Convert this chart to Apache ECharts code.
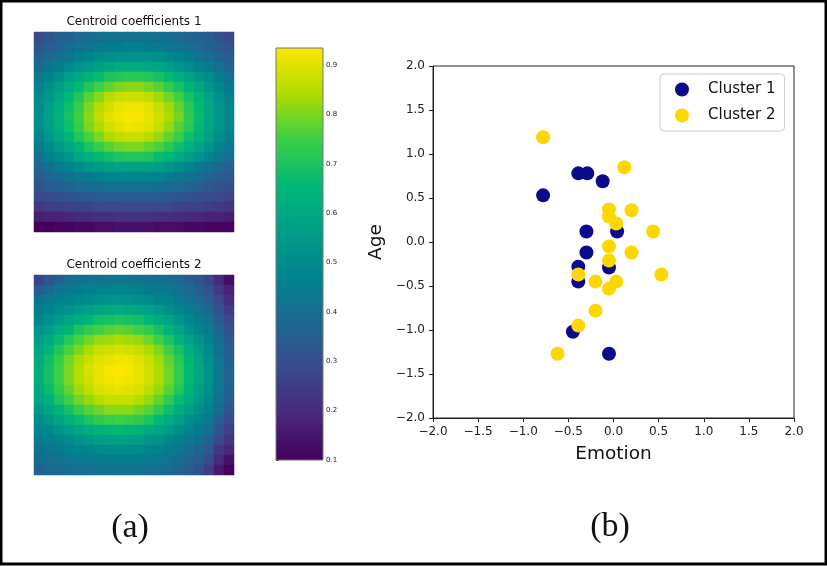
<!DOCTYPE html>
<html>
<head>
<meta charset="utf-8">
<script src="https://cdn.jsdelivr.net/npm/echarts@6/dist/echarts.min.js"></script>
<style>
html,body{margin:0;padding:0;background:#fff;}
#chart{width:827px;height:566px;}
</style>
</head>
<body>
<div id="chart"></div>
<script>
// ---- Heatmap data: Centroid coefficients 1 (rows top -> bottom) ----
const centroid1 = [
[.29,.32,.35,.36,.38,.39,.40,.41,.41,.41,.41,.41,.40,.40,.38,.37,.36,.34,.31,.28],
[.32,.35,.37,.39,.41,.42,.44,.45,.45,.46,.46,.45,.44,.43,.42,.40,.38,.36,.34,.31],
[.36,.38,.41,.43,.46,.48,.50,.51,.52,.52,.52,.52,.51,.49,.47,.45,.42,.40,.37,.34],
[.39,.42,.45,.49,.52,.55,.57,.59,.61,.61,.61,.60,.59,.56,.54,.51,.47,.44,.41,.37],
[.43,.47,.51,.56,.60,.64,.67,.70,.71,.72,.72,.71,.69,.66,.62,.58,.54,.50,.45,.41],
[.46,.51,.56,.61,.66,.71,.75,.78,.80,.81,.81,.79,.77,.73,.69,.64,.59,.54,.49,.44],
[.49,.54,.60,.66,.71,.77,.81,.85,.87,.88,.88,.86,.83,.79,.75,.69,.64,.58,.52,.46],
[.50,.56,.62,.68,.74,.80,.85,.88,.91,.92,.92,.90,.87,.83,.78,.72,.66,.60,.54,.48],
[.51,.57,.63,.69,.75,.81,.86,.90,.92,.93,.93,.91,.88,.84,.79,.73,.67,.60,.54,.48],
[.50,.56,.62,.68,.74,.80,.84,.88,.90,.92,.91,.90,.87,.82,.77,.72,.66,.59,.53,.48],
[.48,.54,.59,.65,.71,.76,.80,.84,.86,.87,.87,.85,.82,.78,.74,.68,.63,.57,.51,.46],
[.45,.50,.55,.60,.65,.70,.74,.77,.79,.80,.80,.78,.76,.72,.68,.63,.58,.53,.48,.43],
[.41,.46,.50,.54,.59,.63,.66,.68,.70,.71,.71,.70,.67,.65,.61,.57,.53,.48,.44,.40],
[.37,.41,.44,.47,.50,.53,.55,.57,.58,.58,.58,.57,.56,.53,.50,.47,.44,.41,.38,.35],
[.35,.37,.39,.41,.43,.45,.46,.47,.48,.48,.48,.48,.47,.45,.43,.41,.39,.37,.35,.33],
[.32,.34,.35,.37,.38,.39,.40,.41,.41,.41,.41,.41,.40,.39,.38,.37,.35,.33,.31,.30],
[.28,.29,.30,.31,.32,.33,.34,.35,.35,.35,.35,.35,.34,.33,.32,.31,.30,.29,.28,.27],
[.24,.25,.25,.26,.27,.27,.28,.28,.29,.29,.29,.29,.28,.28,.27,.26,.26,.25,.24,.23],
[.17,.18,.18,.19,.20,.20,.21,.21,.22,.22,.22,.22,.21,.21,.20,.20,.19,.18,.18,.17],
[.10,.10,.11,.11,.12,.12,.13,.13,.14,.14,.14,.14,.13,.13,.13,.12,.12,.11,.11,.11]
];
// ---- Heatmap data: Centroid coefficients 2 (rows top -> bottom) ----
const centroid2 = [
[.27,.32,.36,.40,.41,.42,.42,.43,.43,.43,.42,.42,.41,.40,.38,.35,.32,.27,.20,.13],
[.35,.38,.42,.43,.45,.46,.46,.47,.47,.47,.46,.45,.44,.43,.41,.38,.35,.31,.24,.18],
[.42,.44,.46,.47,.49,.50,.51,.52,.53,.52,.51,.50,.48,.47,.44,.41,.38,.34,.28,.21],
[.45,.47,.50,.52,.55,.57,.59,.60,.61,.60,.59,.57,.55,.51,.48,.45,.42,.38,.31,.25],
[.48,.51,.55,.59,.62,.65,.68,.69,.70,.69,.68,.65,.61,.58,.53,.49,.45,.41,.34,.28],
[.52,.56,.61,.65,.70,.73,.75,.77,.78,.77,.75,.73,.69,.64,.59,.53,.48,.44,.37,.31],
[.56,.61,.67,.72,.76,.79,.82,.83,.84,.83,.82,.79,.75,.70,.64,.58,.52,.47,.40,.33],
[.59,.65,.71,.76,.80,.84,.87,.88,.89,.88,.87,.84,.80,.75,.69,.62,.56,.50,.41,.35],
[.61,.68,.74,.79,.84,.87,.90,.91,.92,.92,.90,.87,.83,.78,.72,.65,.58,.51,.43,.36],
[.62,.69,.75,.80,.85,.89,.91,.93,.935,.93,.91,.88,.84,.79,.73,.66,.59,.52,.43,.37],
[.62,.69,.75,.80,.85,.88,.91,.92,.93,.92,.91,.88,.84,.79,.73,.66,.59,.52,.43,.37],
[.60,.67,.73,.78,.83,.86,.89,.90,.91,.90,.89,.86,.82,.77,.71,.64,.57,.51,.42,.36],
[.58,.63,.70,.75,.79,.82,.85,.87,.87,.87,.85,.82,.78,.73,.67,.61,.55,.49,.41,.35],
[.54,.59,.64,.69,.74,.77,.79,.81,.81,.81,.79,.77,.73,.68,.62,.57,.51,.46,.39,.32],
[.50,.54,.59,.63,.67,.70,.73,.74,.75,.74,.73,.70,.66,.61,.57,.51,.47,.43,.35,.29],
[.47,.49,.53,.56,.59,.62,.64,.65,.66,.65,.64,.61,.59,.55,.51,.47,.44,.40,.32,.26],
[.44,.46,.48,.50,.52,.54,.56,.57,.57,.57,.56,.54,.52,.49,.46,.43,.40,.36,.28,.23],
[.41,.43,.44,.46,.47,.48,.49,.50,.50,.50,.49,.48,.47,.45,.43,.40,.37,.33,.24,.19],
[.39,.40,.41,.42,.43,.44,.45,.45,.45,.45,.45,.44,.43,.42,.40,.37,.34,.29,.20,.14],
[.37,.38,.38,.39,.40,.40,.41,.41,.41,.41,.41,.40,.40,.39,.37,.34,.31,.25,.16,.10]
];
// ---- Colorbar ----
const cbRange = [0.1, 0.935];
const cbTicks = [0.1, 0.2, 0.3, 0.4, 0.5, 0.6, 0.7, 0.8, 0.9];
const viridis = ['#45005a','#48287a','#3a4a8c','#1c6790','#00848e','#009e88','#00b876','#3ccf45','#b0dc00','#fde700'];

// ---- Scatter data ----
const cluster1X = [-0.78, -0.39, -0.29, -0.12, -0.30, 0.04, -0.30, -0.39, -0.05, -0.39, -0.45, -0.05];
const cluster1Y = [ 0.53,  0.78,  0.78,  0.69,  0.12, 0.12, -0.12, -0.28, -0.29, -0.45, -1.02, -1.27];
const cluster2X = [-0.78, 0.12, -0.05, -0.05, 0.03, 0.20, 0.44, -0.05, 0.20, -0.05, 0.53, -0.39, -0.20, 0.03, -0.05, -0.20, -0.39, -0.62];
const cluster2Y = [ 1.19, 0.85,  0.37,  0.29, 0.21, 0.36, 0.12, -0.05, -0.12, -0.21, -0.37, -0.37, -0.45, -0.45, -0.53, -0.78, -0.95, -1.27];
const seriesNames = ['Cluster 1', 'Cluster 2'];
const axisRange = [-2, 2];

function toCells(m){
  const out = [];
  m.forEach((row, j) => row.forEach((v, i) => out.push([i, j, v])));
  return out;
}
const idx = centroid1[0].map((_, i) => i);
const ridx = centroid1.map((_, j) => j);
const fmt = v => (v < 0 ? '\u2212' : '') + Math.abs(v).toFixed(1);

const chart = echarts.init(document.getElementById('chart'), null, {renderer: 'canvas'});
const cbGradient = new echarts.graphic.LinearGradient(0, 1, 0, 0,
  viridis.map((c, k) => ({offset: k / (viridis.length - 1), color: c})));

const option = {
  animation: false,
  backgroundColor: '#ffffff',
  textStyle: {fontFamily: 'DejaVu Sans'},
  grid: [
    {left: 34, top: 32, width: 200, height: 200},
    {left: 34, top: 275, width: 200, height: 200},
    {left: 276, top: 48, width: 47, height: 412},
    {left: 433, top: 66, width: 361, height: 352, show: true, borderColor: '#222', borderWidth: 1, backgroundColor: 'transparent'}
  ],
  xAxis: [
    {gridIndex: 0, type: 'category', data: idx, show: false},
    {gridIndex: 1, type: 'category', data: idx, show: false},
    {gridIndex: 2, type: 'value', min: 0, max: 1, show: false},
    {gridIndex: 3, type: 'value', min: axisRange[0], max: axisRange[1], interval: 0.5,
     name: 'Emotion', nameLocation: 'middle', nameGap: 27,
     nameTextStyle: {fontSize: 18.5, color: '#111', fontFamily: 'DejaVu Sans'},
     splitLine: {show: false},
     axisLine: {show: true, onZero: false, lineStyle: {color: '#222', width: 1}},
     axisTick: {show: true, inside: false, length: 4, lineStyle: {color: '#222'}},
     axisLabel: {fontSize: 12, color: '#222', margin: 8, formatter: fmt}}
  ],
  yAxis: [
    {gridIndex: 0, type: 'category', data: ridx, inverse: true, show: false},
    {gridIndex: 1, type: 'category', data: ridx, inverse: true, show: false},
    {gridIndex: 2, type: 'value', min: cbRange[0], max: cbRange[1], position: 'right',
     splitLine: {show: false}, axisLine: {show: false},
     axisTick: {show: true, length: 3, lineStyle: {color: '#333'}, customValues: cbTicks},
     axisLabel: {fontSize: 7, color: '#222', margin: 3, customValues: cbTicks, formatter: v => v.toFixed(1)}},
    {gridIndex: 3, type: 'value', min: axisRange[0], max: axisRange[1], interval: 0.5,
     name: 'Age', nameLocation: 'middle', nameGap: 47, nameRotate: 90,
     nameTextStyle: {fontSize: 18.5, color: '#111', fontFamily: 'DejaVu Sans'},
     splitLine: {show: false},
     axisLine: {show: true, onZero: false, lineStyle: {color: '#222', width: 1}},
     axisTick: {show: true, inside: false, length: 4, lineStyle: {color: '#222'}},
     axisLabel: {fontSize: 12, color: '#222', margin: 8, formatter: fmt}}
  ],
  visualMap: {
    show: false, type: 'continuous', min: cbRange[0], max: cbRange[1],
    seriesIndex: [0, 1], inRange: {color: viridis}
  },
  legend: {
    data: seriesNames,
    orient: 'vertical', left: 660, top: 74,
    padding: [8, 9, 8, 15], itemGap: 11,
    itemWidth: 14, itemHeight: 14, icon: 'circle',
    borderColor: '#cccccc', borderWidth: 1, borderRadius: 4, backgroundColor: '#ffffff',
    textStyle: {fontSize: 15, color: '#111', lineHeight: 14, padding: [0, 0, 0, 14], fontFamily: 'DejaVu Sans'}
  },
  series: [
    {type: 'heatmap', xAxisIndex: 0, yAxisIndex: 0, data: toCells(centroid1), progressive: 0,
     emphasis: {disabled: true}, itemStyle: {borderWidth: 0}},
    {type: 'heatmap', xAxisIndex: 1, yAxisIndex: 1, data: toCells(centroid2), progressive: 0,
     emphasis: {disabled: true}, itemStyle: {borderWidth: 0}},
    {type: 'custom', xAxisIndex: 2, yAxisIndex: 2, silent: true,
     data: [[0, cbRange[0], cbRange[1]]],
     renderItem: function (params, api) {
       const p0 = api.coord([0, api.value(1)]);
       const p1 = api.coord([1, api.value(2)]);
       return {type: 'rect',
         shape: {x: p0[0], y: p1[1], width: p1[0] - p0[0], height: p0[1] - p1[1]},
         style: {fill: cbGradient, stroke: '#777777', lineWidth: 1}};
     }},
    {type: 'scatter', name: seriesNames[0], xAxisIndex: 3, yAxisIndex: 3, symbolSize: 14,
     itemStyle: {color: '#0a0a8a', opacity: 1},
     data: cluster1X.map((x, k) => [x, cluster1Y[k]])},
    {type: 'scatter', name: seriesNames[1], xAxisIndex: 3, yAxisIndex: 3, symbolSize: 14,
     itemStyle: {color: '#ffd700', opacity: 1},
     data: cluster2X.map((x, k) => [x, cluster2Y[k]])}
  ],
  graphic: [
    {type: 'text', x: 134, y: 22, style: {text: 'Centroid coefficients 1', textAlign: 'center', textVerticalAlign: 'middle', font: '12px "DejaVu Sans"', fill: '#111'}},
    {type: 'text', x: 134, y: 265, style: {text: 'Centroid coefficients 2', textAlign: 'center', textVerticalAlign: 'middle', font: '12px "DejaVu Sans"', fill: '#111'}},
    {type: 'text', x: 130, y: 528, style: {text: '(a)', textAlign: 'center', textVerticalAlign: 'middle', font: '34px "Liberation Serif"', fill: '#111'}},
    {type: 'text', x: 610, y: 527, style: {text: '(b)', textAlign: 'center', textVerticalAlign: 'middle', font: '34px "Liberation Serif"', fill: '#111'}},
    {type: 'rect', z: 100, shape: {x: 1, y: 1, width: 825, height: 563}, style: {fill: 'none', stroke: '#000', lineWidth: 3}}
  ]
};
chart.setOption(option);
</script>
</body>
</html>
